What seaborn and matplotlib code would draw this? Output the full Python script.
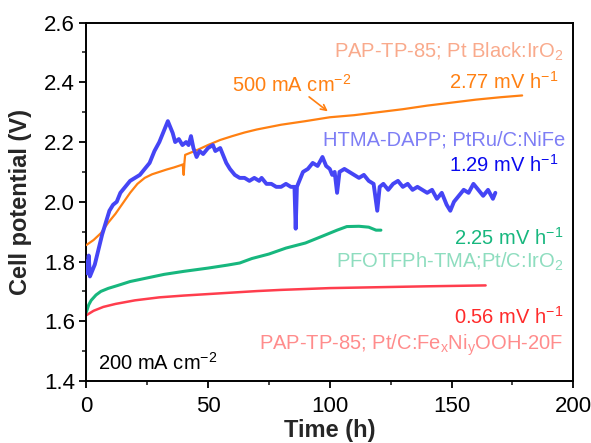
import matplotlib
matplotlib.use("Agg")
import matplotlib.pyplot as plt
import seaborn as sns
import pandas as pd
from matplotlib.ticker import MultipleLocator

# ---------------- data ----------------
orange_t = [0, 3, 6, 9, 12, 15, 18, 21, 24, 27, 30, 33, 36, 39, 39.6, 40.0, 40.3, 40.6, 43, 46, 50, 55, 60,
            65, 70, 80, 90, 100, 110, 120, 130, 140, 150, 160, 170, 179]
orange_v = [1.855, 1.872, 1.895, 1.93, 1.96, 1.995, 2.03, 2.06, 2.08, 2.092, 2.10, 2.108, 2.115, 2.123, 2.125,
            2.09, 2.13, 2.157, 2.165, 2.175, 2.19, 2.207, 2.22, 2.232, 2.242, 2.258, 2.27, 2.283, 2.29, 2.30,
            2.31, 2.322, 2.332, 2.342, 2.35, 2.356]

blue_t = [0, 0.5, 1, 1.5, 2.5, 3.5, 5, 6.5, 8, 9.5, 11, 12.5, 14, 16, 18, 20, 22, 24, 26, 28, 30, 32, 33.5,
          34.5, 35.5, 36.5, 38, 39.5, 41, 42, 43, 44, 45.3, 46.5, 48, 50, 52, 53, 55, 56, 57.5, 59, 61, 63,
          65, 67, 69, 71, 72, 74, 76, 78, 80, 82, 84, 85.5, 86, 86.5, 88, 89, 91, 93, 95, 97, 98.5, 100,
          101, 102, 103, 104, 106, 108, 110, 112, 114, 116, 118, 119.5, 120.5, 122, 124, 126, 128, 130,
          132, 134, 136, 138, 140, 142, 144, 146, 148, 149.5, 151, 153, 155, 157, 159, 161, 163, 165,
          167, 168]
blue_v = [1.80, 1.76, 1.82, 1.75, 1.77, 1.79, 1.84, 1.89, 1.93, 1.97, 1.99, 2.00, 2.03, 2.05, 2.07, 2.08,
          2.09, 2.11, 2.13, 2.17, 2.20, 2.24, 2.27, 2.25, 2.23, 2.20, 2.21, 2.19, 2.20, 2.19, 2.22, 2.18,
          2.15, 2.17, 2.16, 2.18, 2.19, 2.17, 2.18, 2.16, 2.13, 2.11, 2.09, 2.08, 2.08, 2.07, 2.08, 2.07,
          2.08, 2.06, 2.06, 2.05, 2.05, 2.06, 2.05, 2.05, 1.91, 2.05, 2.08, 2.10, 2.11, 2.13, 2.12, 2.15,
          2.12, 2.11, 2.09, 2.10, 2.03, 2.10, 2.11, 2.10, 2.09, 2.08, 2.09, 2.07, 2.06, 1.97, 2.05, 2.06,
          2.04, 2.06, 2.07, 2.05, 2.06, 2.04, 2.05, 2.04, 2.03, 2.04, 2.01, 2.03, 1.99, 1.97, 2.00, 2.02,
          2.04, 2.03, 2.06, 2.04, 2.02, 2.04, 2.01, 2.03]

green_t = [0, 1, 2, 4, 6, 9, 13, 18, 25, 32, 40, 50, 58, 63, 68, 75, 82, 90, 97, 103, 107, 112, 116, 119, 121]
green_v = [1.63, 1.655, 1.67, 1.688, 1.70, 1.71, 1.72, 1.733, 1.745, 1.757, 1.767, 1.778, 1.788, 1.795,
           1.81, 1.825, 1.845, 1.862, 1.885, 1.905, 1.917, 1.918, 1.915, 1.905, 1.905]

red_t = [0, 3, 7, 12, 20, 30, 40, 50, 60, 70, 80, 90, 100, 120, 140, 164]
red_v = [1.62, 1.635, 1.648, 1.658, 1.67, 1.68, 1.686, 1.691, 1.696, 1.701, 1.705, 1.708, 1.711, 1.714,
         1.717, 1.72]

x_ticks = [0, 50, 100, 150, 200]
y_ticks = [1.4, 1.6, 1.8, 2.0, 2.2, 2.4, 2.6]

# ---------------- style ----------------
sns.set_style("ticks")
plt.rcParams['font.family'] = ['Liberation Sans', 'DejaVu Sans']
plt.rcParams['mathtext.fontset'] = 'custom'
plt.rcParams['mathtext.rm'] = 'Liberation Sans'
plt.rcParams['mathtext.it'] = 'Liberation Sans:italic'
plt.rcParams['mathtext.bf'] = 'Liberation Sans:bold'

C_OR = '#FF8012'
C_BL = '#4545F5'
C_GR = '#17B77E'
C_RD = '#FF3D4D'

fig = plt.figure(figsize=(5.91, 4.43), dpi=100)
ax = fig.add_axes([0.146, 0.14, 0.824, 0.809])

def draw(t, v, color, lw, z):
    df = pd.DataFrame({'t': t, 'v': v})
    sns.lineplot(data=df, x='t', y='v', ax=ax, color=color, linewidth=lw, sort=False,
                 estimator=None, zorder=z)

draw(red_t, red_v, C_RD, 1.8, 2)
draw(green_t, green_v, C_GR, 2.2, 2)
draw(orange_t, orange_v, C_OR, 1.6, 3)
draw(blue_t, blue_v, C_BL, 2.8, 4)

ax.set_xlim(0, 200)
ax.set_ylim(1.4, 2.6)
ax.set_xticks(x_ticks)
ax.set_yticks(y_ticks)
ax.set_xticklabels([str(v) for v in x_ticks])
ax.set_yticklabels([f"{v:.1f}" for v in y_ticks])
ax.xaxis.set_minor_locator(MultipleLocator(25))
ax.yaxis.set_minor_locator(MultipleLocator(0.1))
ax.tick_params(which='major', direction='out', length=5, width=1.3, labelsize=16, colors='black', pad=3)
ax.tick_params(axis='x', which='major', pad=6)
ax.tick_params(which='minor', direction='out', length=3, width=1.2)
for s in ax.spines.values():
    s.set_linewidth(1.4)
    s.set_color('black')
    s.set_visible(True)

ax.set_xlabel('Time (h)', fontsize=17, fontweight='bold', labelpad=1)
ax.set_ylabel('Cell potential (V)', fontsize=17, fontweight='bold', labelpad=9)

fs = 14.5
ax.text(196, 2.501, r'PAP-TP-85; Pt Black:IrO$_2$', color='#F9AA8C', fontsize=fs, ha='right', va='center')
ax.text(194, 2.401, r'2.77 mV h$^{-1}$', color=C_OR, fontsize=fs, ha='right', va='center')
ax.text(59.8, 2.391, r'500 mA cm$^{-2}$', color=C_OR, fontsize=fs, ha='left', va='center')
ax.annotate('', xy=(100.1, 2.297), xytext=(90.6, 2.357),
            arrowprops=dict(arrowstyle='->', color=C_OR, lw=1.2))
ax.text(196.7, 2.207, r'HTMA-DAPP; PtRu/C:NiFe', color='#7E7EF5', fontsize=fs, ha='right', va='center')
ax.text(194, 2.123, r'1.29 mV h$^{-1}$', color='#0A0AEE', fontsize=fs, ha='right', va='center')
ax.text(196, 1.879, r'2.25 mV h$^{-1}$', color=C_GR, fontsize=fs, ha='right', va='center')
ax.text(196, 1.799, r'PFOTFPh-TMA;Pt/C:IrO$_2$', color='#8EDDBF', fontsize=fs, ha='right', va='center')
ax.text(196, 1.615, r'0.56 mV h$^{-1}$', color='#FF2A2A', fontsize=fs, ha='right', va='center')
ax.text(196, 1.521, r'PAP-TP-85; Pt/C:Fe$_\mathrm{x}$Ni$_\mathrm{y}$OOH-20F', color='#FF8C8C',
        fontsize=fs, ha='right', va='center')
ax.text(4.7, 1.461, r'200 mA cm$^{-2}$', color='black', fontsize=fs, ha='left', va='center')

fig.savefig('out.png', dpi=100)
